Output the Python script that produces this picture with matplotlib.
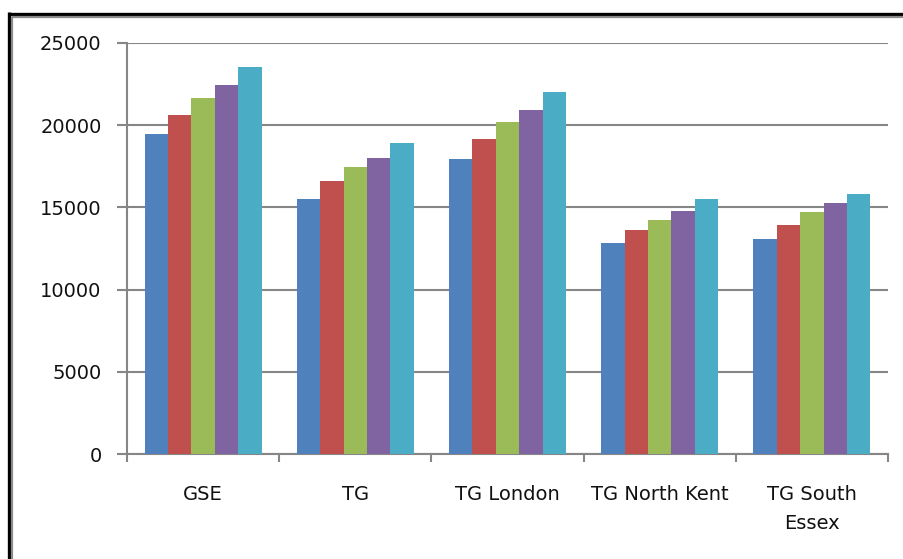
import numpy as np
import matplotlib
matplotlib.use('Agg')
import matplotlib.pyplot as plt
from matplotlib.lines import Line2D


categories = ['GSE', 'TG', 'TG London', 'TG North Kent', 'TG South\nEssex']
series_1 = [19450, 15490, 17930, 12810, 13050]
series_2 = [20610, 16590, 19150, 13600, 13900]
series_3 = [21650, 17440, 20180, 14210, 14700]
series_4 = [22440, 17990, 20920, 14760, 15250]
series_5 = [23540, 18900, 22010, 15490, 15790]
yticks = [0, 5000, 10000, 15000, 20000, 25000]

COLORS = ['#4F81BD', '#C0504D', '#9BBB59', '#8064A2', '#4BACC6']
GRID = '#868686'

W, H = 904, 559
DPI = 100

fig = plt.figure(figsize=(W / DPI, H / DPI), dpi=DPI)
fig.patch.set_facecolor('white')
ax = fig.add_axes([127.0 / W, 1 - 454.0 / H, (888.0 - 127.0) / W, (454.0 - 43.0) / H])

data = [series_1, series_2, series_3, series_4, series_5]
n = len(data)
width = 1.0 / (n + 1.5)   # gap of 150% between groups
x = np.arange(len(categories))
for i, vals in enumerate(data):
    ax.bar(x - width * n / 2 + width * (i + 0.5), vals, width,
           color=COLORS[i], edgecolor='none', zorder=3)

ax.set_xlim(-0.5, len(categories) - 0.5)
ax.set_ylim(0, 25000)

ax.set_yticks(yticks)
ax.set_yticklabels([str(v) for v in yticks])
ax.yaxis.grid(True, color=GRID, linewidth=1.5, zorder=0)

# category labels at centres, tick marks on the boundaries
ax.set_xticks(x)
ax.set_xticklabels(categories, linespacing=1.7)
ax.set_xticks(np.arange(len(categories) + 1) - 0.5, minor=True)
ax.tick_params(axis='x', which='major', length=0, pad=22, labelsize=14, labelcolor='#111111')
ax.tick_params(axis='x', which='minor', length=6, width=1.5, color=GRID, direction='out')
ax.tick_params(axis='y', length=7.2, width=1.5, color=GRID, pad=11, labelsize=14, labelcolor='#111111')

for s in ['top', 'right']:
    ax.spines[s].set_visible(False)
for s in ['left', 'bottom']:
    ax.spines[s].set_color(GRID)
    ax.spines[s].set_linewidth(1.5)

# outer frame: black line with a grey line inside
def px_line(x0, y0, x1, y1, color, lw):
    fig.add_artist(Line2D([x0 / W, x1 / W], [1 - y0 / H, 1 - y1 / H],
                          transform=fig.transFigure, color=color, linewidth=lw,
                          solid_capstyle='butt'))

px_line(8.5, 13.5, W, 13.5, 'black', 2.4)
px_line(8.5, 12.3, 8.5, H, 'black', 2.4)
px_line(11.5, 16.5, W, 16.5, '#8a8a8a', 1.6)
px_line(11.5, 16.5, 11.5, H, '#8a8a8a', 1.6)

plt.savefig('out.png', dpi=DPI)
